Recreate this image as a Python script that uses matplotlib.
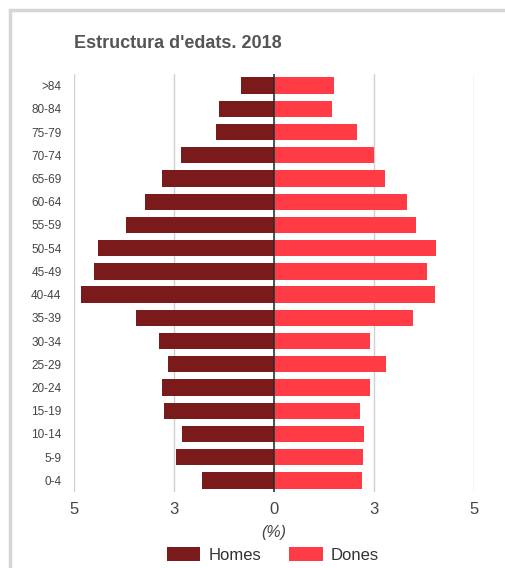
import numpy as np
import matplotlib.pyplot as plt
from matplotlib.patches import Rectangle, Patch

# grups d'edat, de dalt a baix
grups = ['>84', '80-84', '75-79', '70-74', '65-69', '60-64', '55-59', '50-54',
         '45-49', '40-44', '35-39', '30-34', '25-29', '20-24', '15-19',
         '10-14', '5-9', '0-4']
homes = [0.82, 1.38, 1.46, 2.33, 2.79, 3.22, 3.71, 4.40,
         4.51, 4.82, 3.44, 2.87, 2.64, 2.79, 2.76, 2.30, 2.45, 1.80]
dones = [1.50, 1.46, 2.07, 2.49, 2.77, 3.33, 3.56, 4.05,
         3.83, 4.02, 3.48, 2.41, 2.80, 2.41, 2.16, 2.26, 2.23, 2.19]
ticks = [-5, -2.5, 0, 2.5, 5]
tick_labels = ['5', '3', '0', '3', '5']

plt.rcParams['font.family'] = ['Liberation Sans', 'DejaVu Sans']

fig = plt.figure(figsize=(5.06, 5.68), dpi=100)
# marc gris de la targeta
fig.patches.append(Rectangle((10 / 506, -0.1), 1.2, 1 - 10 / 568 + 0.1,
                             transform=fig.transFigure, fill=False,
                             edgecolor='#d6d6d6', linewidth=2.5))

ax = fig.add_axes([74 / 506, 1 - 492 / 568, 400 / 506, 418 / 568])

y = np.arange(len(grups))
ax.barh(y, -np.asarray(homes), height=0.7, color='#7a1a1a', zorder=2)
ax.barh(y, dones, height=0.7, color='#ff3b45', zorder=2)
ax.axvline(0, color='#1f2f2f', linewidth=1.1, zorder=3)

ax.set_xlim(-5, 5)
ax.set_ylim(len(grups) - 0.5, -0.5)
ax.set_xticks(ticks)
ax.set_xticklabels(tick_labels, fontsize=12, color='#444444')
ax.set_yticks(y)
ax.set_yticklabels(grups, fontsize=8.5, color='#444444')
ax.tick_params(length=0)
ax.tick_params(axis='x', pad=7)
ax.tick_params(axis='y', pad=9)
ax.grid(axis='x', color='#d0d0d0', linewidth=1, zorder=0)
for s in ax.spines.values():
    s.set_visible(False)

ax.set_xlabel('(%)', fontsize=11.5, style='italic', color='#444444', labelpad=6)

fig.text(74 / 506, 1 - 43 / 568, "Estructura d'edats. 2018", fontsize=13,
         fontweight='bold', color='#555555', va='center', ha='left')

handles = [Patch(facecolor='#7a1a1a', label='Homes'),
           Patch(facecolor='#ff3b45', label='Dones')]
fig.legend(handles=handles, loc='center', bbox_to_anchor=(273 / 506, 1 - 555 / 568),
           ncol=2, frameon=False, fontsize=12, handlelength=2.0, handleheight=0.9,
           handletextpad=0.48, columnspacing=1.7, labelcolor='#333333',
           borderpad=0)

fig.savefig('out.png', dpi=100)
